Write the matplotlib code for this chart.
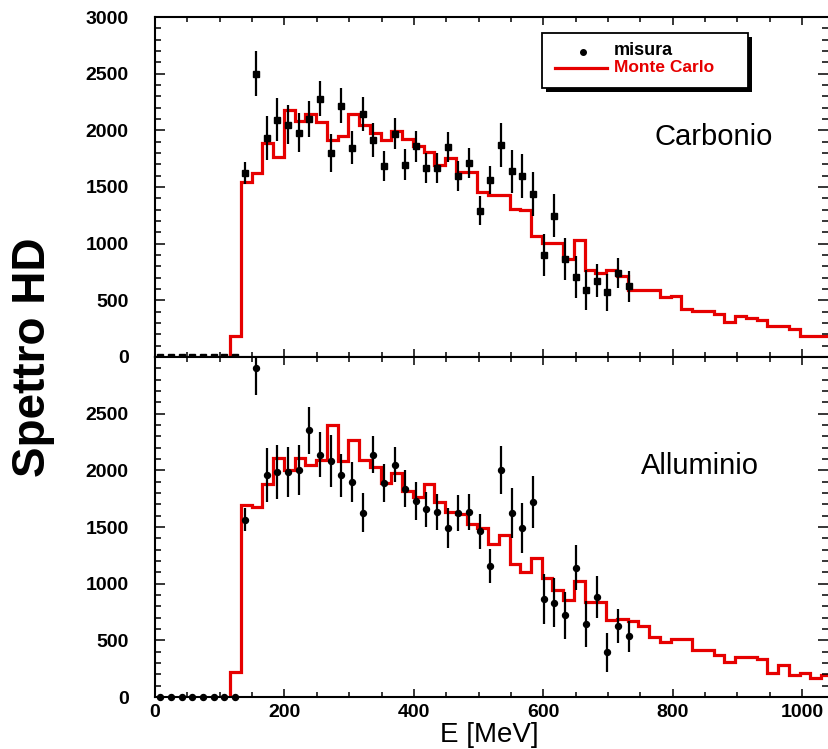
import numpy as np
import matplotlib
matplotlib.use("Agg")
import matplotlib.pyplot as plt
from matplotlib.lines import Line2D
from matplotlib.patches import Rectangle
from matplotlib.ticker import MultipleLocator

plt.rcParams["font.family"] = ["Liberation Sans", "DejaVu Sans"]

# --- Data: measured spectrum (bin centres in MeV) ---
E_MISURA = [8.2, 24.7, 41.1, 57.6, 74.0, 90.5, 106.9, 123.4, 139.8, 156.3,
            172.7, 189.2, 205.6, 222.1, 238.5, 255.0, 271.4, 287.9, 304.3, 320.8,
            337.2, 353.7, 370.1, 386.6, 403.0, 419.5, 435.9, 452.4, 468.8, 485.3,
            501.7, 518.2, 534.6, 551.1, 567.5, 584.0, 600.4, 616.9, 633.3, 649.8,
            666.2, 682.7, 699.1, 715.6, 732.0]

C_MISURA = [0, 0, 0, 0, 0, 0, 0, 0, 1624, 2500,
            1935, 2094, 2050, 1977, 2100, 2280, 1800, 2218, 1845, 2145,
            1912, 1682, 1971, 1697, 1859, 1668, 1668, 1850, 1594, 1712,
            1291, 1559, 1868, 1638, 1594, 1438, 897, 1247, 865, 706,
            594, 673, 570, 741, 623]
C_ERR = [0, 0, 0, 0, 0, 0, 0, 0, 95, 196,
         194, 187, 172, 172, 162, 153, 166, 153, 146, 150,
         150, 132, 135, 137, 135, 129, 130, 132, 132, 130,
         126, 125, 193, 191, 194, 196, 184, 191, 187, 184,
         176, 147, 162, 132, 135]

AL_MISURA = [0, 0, 0, 0, 0, 0, 0, 0, 1566, 2907,
             1957, 1986, 1986, 2001, 2354, 2139, 2080, 1957, 1898, 1627,
             2139, 1889, 2051, 1839, 1727, 1657, 1633, 1492, 1627, 1633,
             1462, 1156, 2001, 1627, 1492, 1721, 868, 833, 721, 1142,
             642, 883, 397, 627, 536]
AL_ERR = [0, 0, 0, 0, 0, 0, 0, 0, 103, 245,
          238, 238, 220, 219, 206, 201, 228, 191, 180, 174,
          165, 165, 154, 166, 166, 154, 159, 176, 160, 155,
          157, 154, 212, 221, 218, 231, 221, 216, 209, 196,
          203, 184, 172, 154, 137]

# --- Data: Monte Carlo histograms (63 bins) ---
MC_EDGES = np.linspace(0, 1045.8, 64)

C_MC = [0, 0, 0, 0, 0, 0, 0, 188, 1541, 1624,
        1889, 1762, 2177, 2080, 2145, 2071, 1912, 1947, 2145, 2050,
        1977, 1912, 1997, 1924, 1859, 1810, 1691, 1756, 1629, 1629,
        1456, 1426, 1426, 1309, 1300, 1071, 1006, 1006, 867, 1035,
        764, 741, 764, 717, 594, 594, 588, 529, 541, 424,
        403, 403, 382, 306, 359, 341, 323, 276, 276, 247,
        182, 182, 182]

AL_MC = [0, 0, 0, 0, 0, 0, 0, 221, 1692, 1677,
         1883, 2113, 2001, 2113, 2045, 2089, 2398, 2080, 2266, 2089,
         2030, 1889, 1977, 1818, 1765, 1883, 1721, 1633, 1618, 1524,
         1492, 1354, 1427, 1177, 1103, 1230, 1052, 948, 853, 1027,
         836, 836, 683, 690, 668, 624, 530, 486, 509, 509,
         412, 412, 374, 309, 353, 353, 339, 212, 280, 198,
         215, 171, 191]

RED = "#e60000"


def style_axes(ax, show_xlabels):
    ax.set_xlim(0, 1040)
    ax.set_ylim(0, 3000)
    ax.xaxis.set_major_locator(MultipleLocator(200))
    ax.xaxis.set_minor_locator(MultipleLocator(50))
    ax.yaxis.set_minor_locator(MultipleLocator(100))
    ax.tick_params(which="both", direction="in", top=True, right=True,
                   width=1.1, colors="black")
    ax.tick_params(axis="x", which="major", length=6)
    ax.tick_params(axis="x", which="minor", length=3.5)
    ax.tick_params(axis="y", which="major", length=7.5, pad=19)
    ax.tick_params(axis="y", which="minor", length=4)
    ax.tick_params(axis="x", labelbottom=show_xlabels, pad=5)
    for lab in ax.get_xticklabels() + ax.get_yticklabels():
        lab.set_fontsize(14)
        lab.set_fontweight("bold")
    for side in ("left", "top", "bottom"):
        ax.spines[side].set_linewidth(1.5)
    ax.spines["right"].set_visible(False)


def draw_panel(ax, y, yerr, mc, marker):
    mc = np.asarray(mc, dtype=float)
    first = int(np.argmax(mc > 0))
    ax.stairs(mc[first:], MC_EDGES[first:], color=RED, lw=2.3, baseline=0)
    ax.errorbar(E_MISURA, y, yerr=yerr, fmt="none", ecolor="black",
                elinewidth=1.6, capsize=0)
    ax.plot(E_MISURA, y, ls="none", marker=marker, ms=4.3, color="black",
            clip_on=False, zorder=5)


def draw_legend(ax):
    # boxed key with a solid drop shadow, in axes fractions
    tr = ax.transAxes
    ax.add_patch(Rectangle((0.581, 0.780), 0.306, 0.162, transform=tr,
                           facecolor="black", edgecolor="none", zorder=6))
    ax.add_patch(Rectangle((0.575, 0.791), 0.306, 0.162, transform=tr,
                           facecolor="white", edgecolor="black", lw=1.3,
                           zorder=7))
    ax.add_line(Line2D([0.636], [0.897], transform=tr, ls="none", marker="o",
                       ms=4, color="black", zorder=8))
    ax.add_line(Line2D([0.594, 0.672], [0.850, 0.850], transform=tr,
                       color=RED, lw=2.3, zorder=8))
    ax.text(0.682, 0.900, "misura", transform=tr, fontsize=13,
            fontweight="bold", color="black", va="center", ha="left", zorder=8)
    ax.text(0.682, 0.850, "Monte Carlo", transform=tr, fontsize=12.5,
            fontweight="bold", color=RED, va="center", ha="left", zorder=8)


fig = plt.figure(figsize=(8.29, 7.49), dpi=100)
ax_c = fig.add_axes([0.187, 0.5234, 0.8118, 0.4539])
ax_al = fig.add_axes([0.187, 0.0694, 0.8118, 0.4539])

draw_panel(ax_c, C_MISURA, C_ERR, C_MC, "s")
draw_panel(ax_al, AL_MISURA, AL_ERR, AL_MC, "o")

ax_c.set_yticks(np.arange(0, 3001, 500))
ax_al.set_yticks(np.arange(0, 2501, 500))
style_axes(ax_c, False)
style_axes(ax_al, True)

ax_c.text(0.742, 0.647, "Carbonio", transform=ax_c.transAxes,
          fontsize=21, va="center", ha="left")
ax_al.text(0.7226, 0.679, "Alluminio", transform=ax_al.transAxes,
           fontsize=21, va="center", ha="left")
draw_legend(ax_c)

fig.text(0.040, 0.523, "Spettro HD", rotation=90, fontsize=33,
         fontweight="bold", ha="center", va="center")
fig.text(0.59, 0.019, "E [MeV]", fontsize=20, ha="center", va="center")

fig.savefig("out.png", dpi=100)
